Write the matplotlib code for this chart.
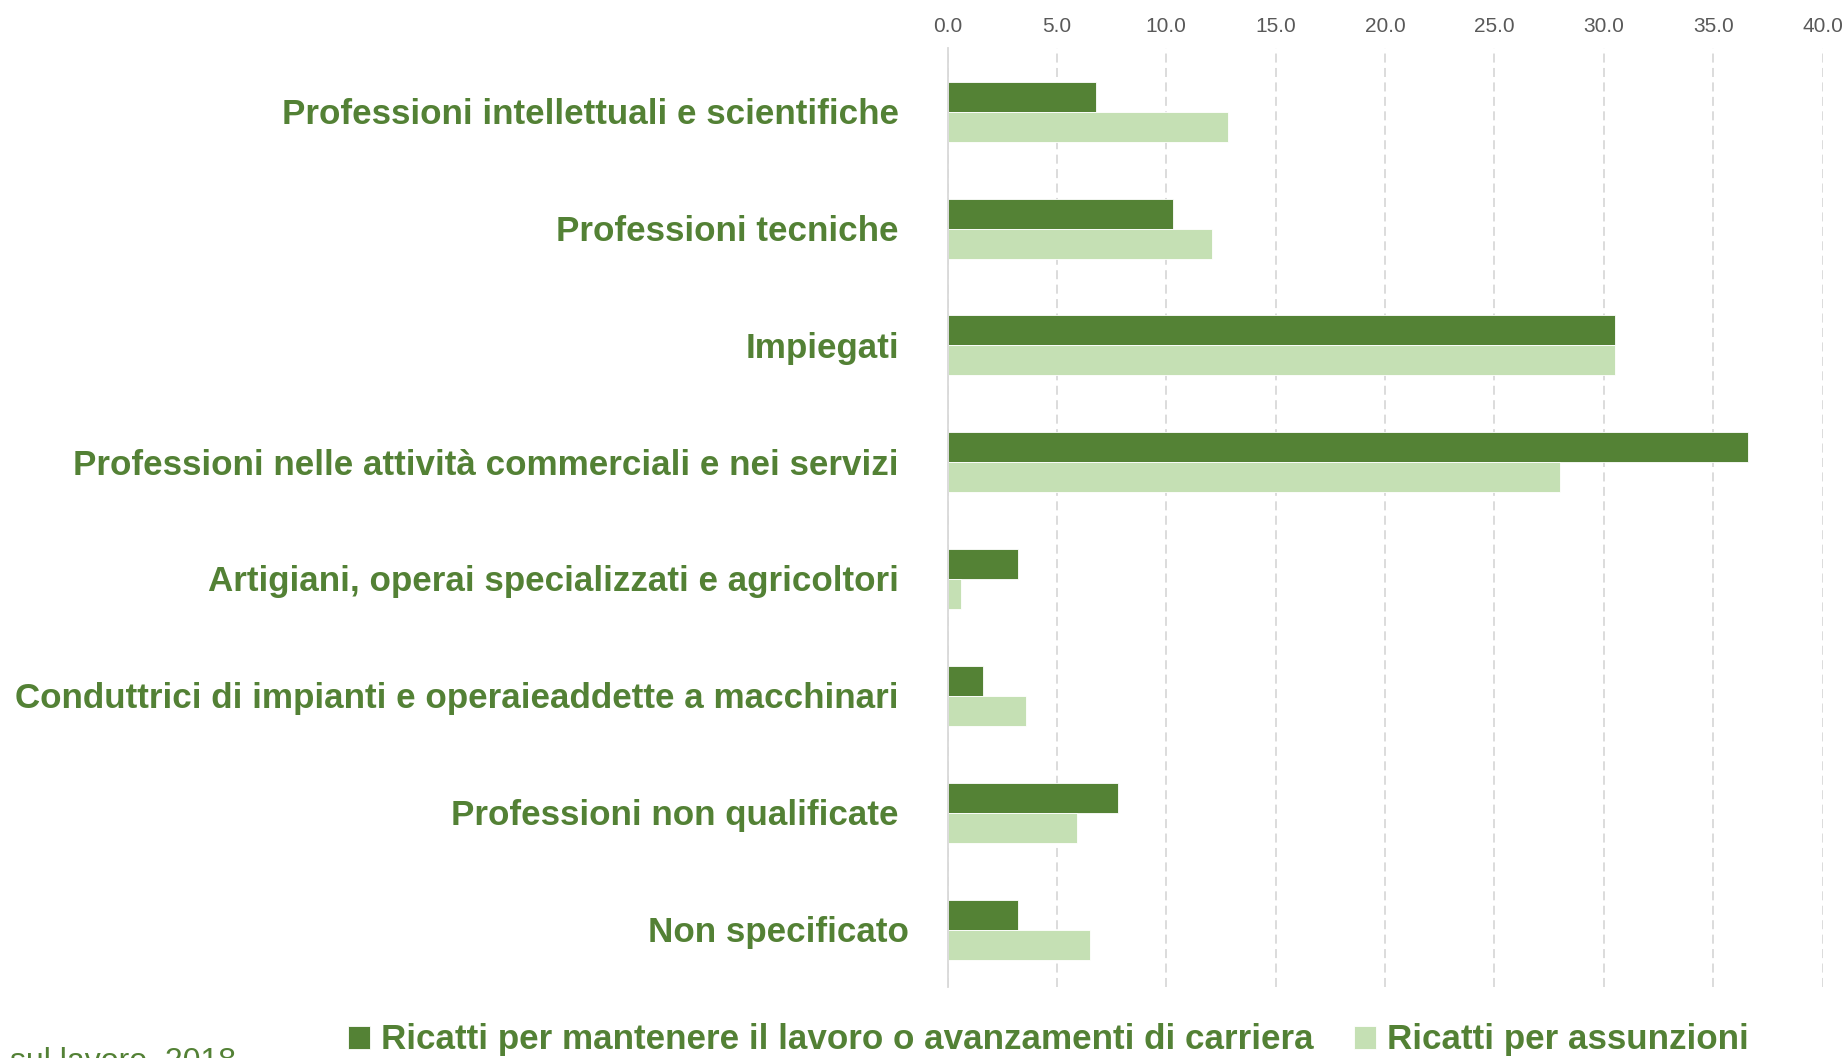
import matplotlib
matplotlib.use("Agg")
import matplotlib.pyplot as plt
import numpy as np

# categories (top to bottom) and the two series, %
CATEGORIES = [
    "Professioni intellettuali e scientifiche",
    "Professioni tecniche",
    "Impiegati",
    "Professioni nelle attività commerciali e nei servizi",
    "Artigiani, operai specializzati e agricoltori",
    "Conduttrici di impianti e operaieaddette a macchinari",
    "Professioni non qualificate",
    "Non specificato",
]
RICATTI_CARRIERA = [6.8, 10.3, 30.5, 36.6, 3.2, 1.6, 7.8, 3.2]
RICATTI_ASSUNZIONI = [12.8, 12.1, 30.5, 28.0, 0.6, 3.6, 5.9, 6.5]
SERIES_NAMES = ["Ricatti per mantenere il lavoro o avanzamenti di carriera",
                "Ricatti per assunzioni"]
XTICKS = [0, 5, 10, 15, 20, 25, 30, 35, 40]
SOURCE = "sul lavoro, 2018"

DARK = "#548235"
LIGHT = "#C5E0B4"
TEXT_GREEN = "#538135"
GREY = "#595959"
FAMILY = ["Liberation Sans", "DejaVu Sans"]

plt.rcParams["font.family"] = FAMILY

fig = plt.figure(figsize=(18.42, 10.58), dpi=100)
ax = fig.add_axes([0.5144, 0.0671, 0.9895 - 0.5144, 0.9546 - 0.0671])

y = np.arange(len(CATEGORIES))
h = 0.257
b1 = ax.barh(y - h / 2, RICATTI_CARRIERA, height=h, color=DARK,
             edgecolor="white", linewidth=0.6, zorder=3)
b2 = ax.barh(y + h / 2, RICATTI_ASSUNZIONI, height=h, color=LIGHT,
             edgecolor="white", linewidth=0.6, zorder=3)

ax.set_xlim(0, 40)
ax.set_ylim(7.49, -0.545)
ax.xaxis.tick_top()
ax.set_xticks(XTICKS)
ax.set_xticklabels([f"{v:.1f}" for v in XTICKS])
ax.tick_params(axis="x", length=0, pad=9, labelsize=15, labelcolor=GREY)
ax.set_yticks([])
ax.grid(axis="x", color="#D9D9D9", linestyle=(0, (5, 3)), linewidth=1.3, zorder=0)
for s in ["top", "right", "bottom"]:
    ax.spines[s].set_visible(False)
ax.spines["left"].set_color("#D9D9D9")
ax.spines["left"].set_linewidth(1.3)
ax.spines["left"].set_zorder(4)

for i, cat in enumerate(CATEGORIES):
    off = -28 if cat == "Non specificato" else -35
    ax.annotate(cat, xy=(0, i), xycoords=ax.get_yaxis_transform(),
                xytext=(off, -2), textcoords="offset points",
                ha="right", va="center", fontsize=25.2, fontweight="bold",
                color=TEXT_GREEN)

leg = fig.legend([b1, b2], SERIES_NAMES, loc="center left",
                 bbox_to_anchor=(0.1716, 1 - 1040 / 1058), ncol=2, frameon=False,
                 handlelength=0.65, handleheight=0.65,
                 handletextpad=0.3, columnspacing=1.15,
                 prop={"weight": "bold", "size": 25.2, "family": FAMILY})
for t in leg.get_texts():
    t.set_color(TEXT_GREEN)

fig.text(236 / 1842, 1 - 1047 / 1058, SOURCE, ha="right", va="top",
         fontsize=23, color=TEXT_GREEN)

fig.savefig("out.png", dpi=100)
